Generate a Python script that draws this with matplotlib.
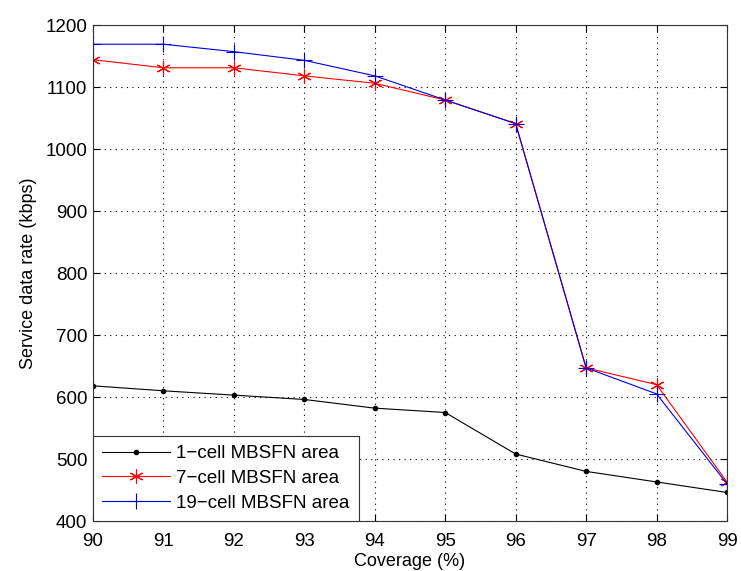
import matplotlib
matplotlib.use("Agg")
import matplotlib.pyplot as plt

plt.rcParams['font.family'] = ['Liberation Sans', 'DejaVu Sans']

coverage = [90, 91, 92, 93, 94, 95, 96, 97, 98, 99]
cell1 = [618, 610, 603, 596, 582, 575, 508, 480, 463, 446]
cell7 = [1144, 1131, 1131, 1118, 1106, 1079, 1041, 647, 620, 463]
cell19 = [1169, 1169, 1157, 1143, 1118, 1079, 1041, 647, 605, 460]
labels = ['1\u2212cell MBSFN area', '7\u2212cell MBSFN area', '19\u2212cell MBSFN area']

fig = plt.figure(figsize=(7.41, 5.71), dpi=100)
ax = fig.add_axes([93 / 741, 1 - 521 / 571, (727 - 93) / 741, (521 - 25) / 571])

ax.plot(coverage, cell1, color='black', marker='.', markersize=6, linewidth=0.8, label=labels[0])
ax.plot(coverage, cell7, color='red', marker=(6, 2, 0), markersize=10, markeredgewidth=0.8, linewidth=0.8, label=labels[1])
ax.plot(coverage, cell19, color='#0000dd', marker='+', markersize=12, markeredgewidth=0.8, linewidth=0.8, label=labels[2])

ax.set_xlim(90, 99)
ax.set_ylim(400, 1200)
ax.set_xticks(coverage)
ax.set_yticks(range(400, 1201, 100))
ax.grid(True, color='black', linestyle=(0, (1, 4)), linewidth=0.8)
ax.tick_params(direction='in', top=True, right=True, labelsize=13.5, length=5)
ax.tick_params(axis='x', pad=9)
ax.tick_params(axis='y', pad=4)
for s in ax.spines.values():
    s.set_linewidth(0.8)
    s.set_color('#333333')
ax.set_xlabel('Coverage (%)', fontsize=13, labelpad=2)
ax.set_ylabel('Service data rate (kbps)', fontsize=13, labelpad=6)

leg = ax.legend(loc='lower left', fontsize=13.5, handlelength=3.6, handletextpad=0.35,
                borderaxespad=0, borderpad=0.5, numpoints=1,
                fancybox=False, framealpha=1, edgecolor='#333333', labelspacing=0.4)
leg.get_frame().set_linewidth(0.8)

fig.savefig('out.png', dpi=100)
